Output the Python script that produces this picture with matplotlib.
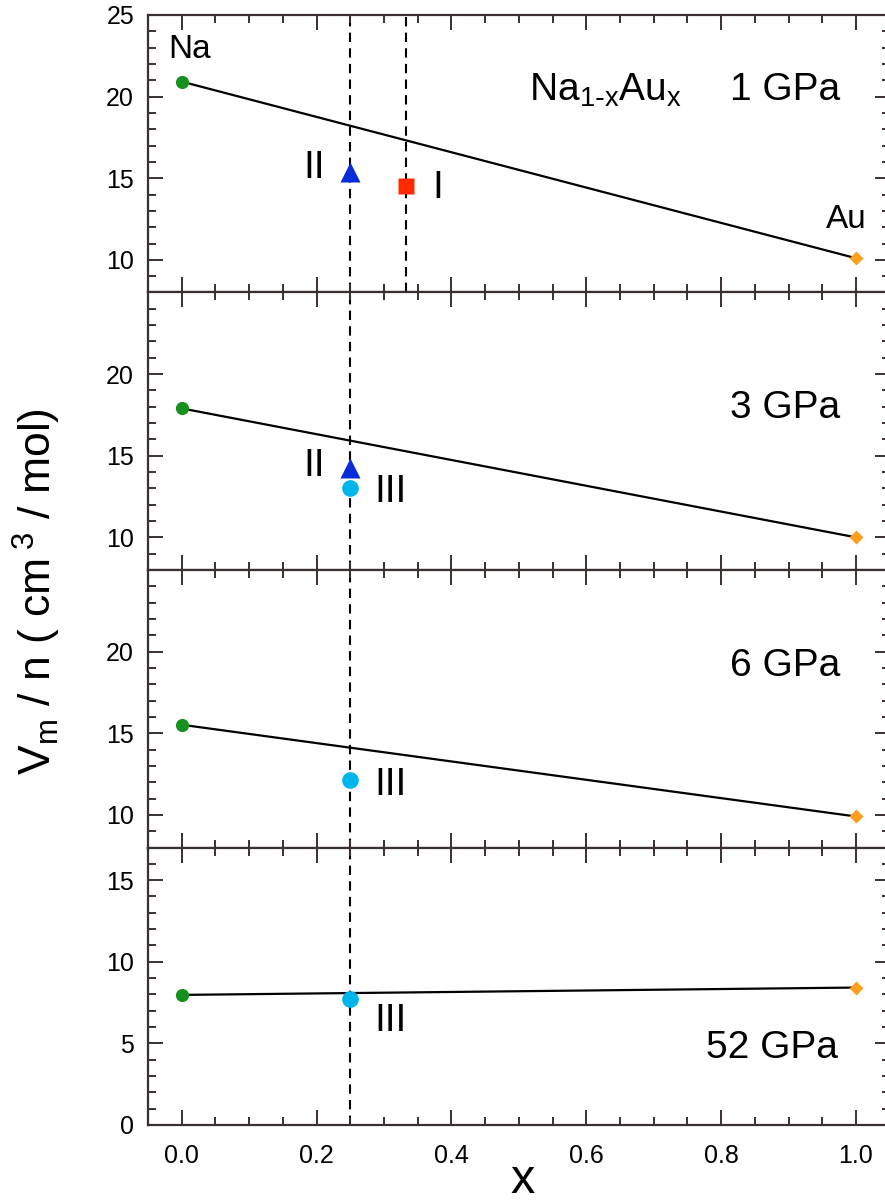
import matplotlib
matplotlib.use("Agg")
import matplotlib.pyplot as plt
from matplotlib.ticker import MultipleLocator

plt.rcParams['font.family'] = ['Liberation Sans', 'DejaVu Sans']
plt.rcParams['mathtext.default'] = 'regular'

# data: molar volume per atom at x=0 (Na), x=1 (Au)
pressures = ["1 GPa", "3 GPa", "6 GPa", "52 GPa"]
na_vol = [20.92, 17.9, 15.52, 7.97]
au_vol = [10.1, 10.0, 9.9, 8.42]
# phase II (x=0.25, triangles)
x_II = 0.25
vol_II = [15.37, 14.25, None, None]
# phase III (x=0.25, circles)
x_III = 0.25
vol_III = [None, 13.0, 12.15, 7.7]
# phase I (x=1/3, square) only at 1 GPa
x_I = 0.333
vol_I = [14.5, None, None, None]

ylims = [(8, 25), (8, 25), (8, 25), (0, 17)]
yticks = [[10, 15, 20, 25], [10, 15, 20], [10, 15, 20], [0, 5, 10, 15]]

spine_col = '#3a3030'
c_na = '#17911e'
c_au = '#ff9e1f'
c_II = '#0a2bd9'
c_III = '#00b4ec'
c_I = '#ff2a00'

W, H = 885, 1201
fig = plt.figure(figsize=(W / 100, H / 100), dpi=100)

left = 148 / W
width = (889.7 - 148) / W
top_px = 15
ph = 277.5

axes = []
for i in range(4):
    bottom = 1 - (top_px + ph * (i + 1)) / H
    ax = fig.add_axes([left, bottom, width, ph / H])
    axes.append(ax)
    ax.set_xlim(-0.05, 1.05)
    ax.set_ylim(*ylims[i])
    ax.set_yticks(yticks[i])
    ax.yaxis.set_minor_locator(MultipleLocator(1))
    ax.xaxis.set_major_locator(MultipleLocator(0.2))
    ax.xaxis.set_minor_locator(MultipleLocator(0.05))
    ax.tick_params(which='both', direction='in', top=True, right=True,
                   color=spine_col, width=1.4)
    ax.tick_params(which='major', length=10.5)
    ax.tick_params(which='minor', length=5.5)
    ax.tick_params(axis='y', labelsize=18, pad=10)
    ax.tick_params(axis='x', labelsize=18, pad=14)
    for s in ax.spines.values():
        s.set_color(spine_col)
        s.set_linewidth(1.6)
    if i < 3:
        ax.tick_params(labelbottom=False)
    else:
        ax.set_xticks([0, 0.2, 0.4, 0.6, 0.8, 1.0])
        ax.set_xticklabels(['0.0', '0.2', '0.4', '0.6', '0.8', '1.0'])

    ax.axvline(0.25, color='black', ls=(0, (4.5, 3)), lw=1.5, zorder=1)
    if i == 0:
        ax.axvline(x_I, color='black', ls=(0, (4.5, 3)), lw=1.5, zorder=1)

    ax.plot([0, 1], [na_vol[i], au_vol[i]], color='black', lw=1.6, zorder=2)
    ax.plot([0], [na_vol[i]], 'o', color=c_na, ms=9.5, mec='none', zorder=4)
    ax.plot([1], [au_vol[i]], 'D', color=c_au, ms=7.5, mec='none', zorder=4)
    if vol_II[i] is not None:
        ax.plot([x_II], [vol_II[i]], '^', color=c_II, ms=15, mec='none', zorder=4)
    if vol_III[i] is not None:
        ax.plot([x_III], [vol_III[i]], 'o', color=c_III, ms=12, mec='none', zorder=4)
    if vol_I[i] is not None:
        ax.plot([x_I], [vol_I[i]], 's', color=c_I, ms=11, mec='none', zorder=4)

fs = 28
a = axes[0]
a.text(0.012, 22.9, 'Na', fontsize=24, ha='center', va='center')
a.text(0.985, 12.5, 'Au', fontsize=24, ha='center', va='center')
a.text(0.628, 20.4, r'Na$_{1\text{-}x}$Au$_x$', fontsize=fs, ha='center', va='center')
a.text(0.895, 20.4, '1 GPa', fontsize=fs, ha='center', va='center')
a.text(0.197, 15.6, 'II', fontsize=fs, ha='center', va='center')
a.text(0.38, 14.4, 'I', fontsize=fs, ha='center', va='center')

a = axes[1]
a.text(0.895, 17.9, '3 GPa', fontsize=fs, ha='center', va='center')
a.text(0.197, 14.4, 'II', fontsize=fs, ha='center', va='center')
a.text(0.31, 12.8, 'III', fontsize=fs, ha='center', va='center')

a = axes[2]
a.text(0.895, 19.1, '6 GPa', fontsize=fs, ha='center', va='center')
a.text(0.31, 11.85, 'III', fontsize=fs, ha='center', va='center')

a = axes[3]
a.text(0.875, 4.7, '52 GPa', fontsize=fs, ha='center', va='center')
a.text(0.31, 6.4, 'III', fontsize=fs, ha='center', va='center')

fig.text(37 / W, 1 - 592 / H, r'V$_m$ / n ( cm$\,^3$ / mol)', rotation=90,
         fontsize=32, ha='center', va='center')
fig.text(523 / W, 8 / H, 'x', fontsize=35, ha='center', va='baseline')

fig.savefig('out.png', dpi=100)
